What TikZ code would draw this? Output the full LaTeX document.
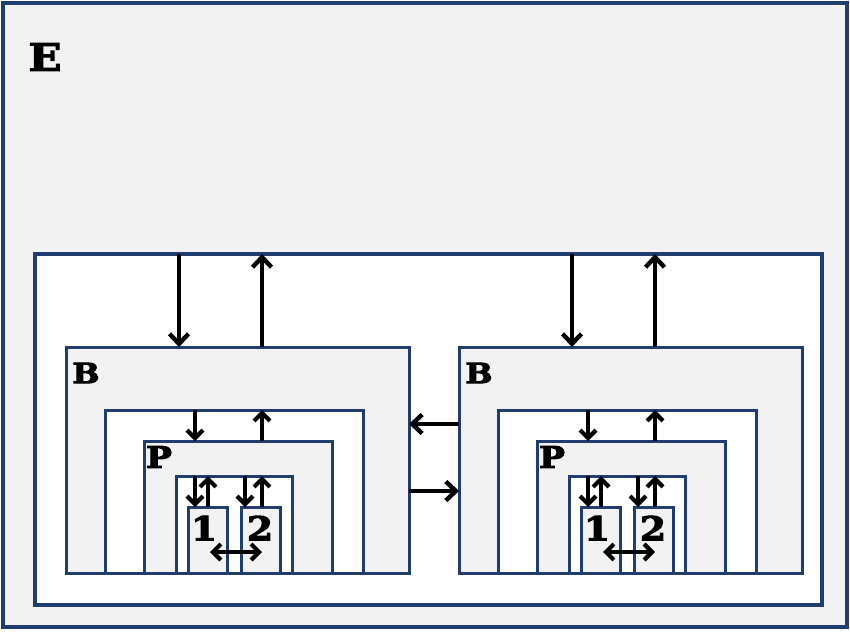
\documentclass[tikz,border=0pt]{standalone}
\usepackage{fontspec}
\newfontfamily\lbl[FakeStretch=1.15,FakeBold=3]{DejaVu Serif}
\usetikzlibrary{arrows.meta}
\definecolor{edge}{RGB}{33,60,110}
\definecolor{shade}{RGB}{242,242,242}
\tikzset{
  rbox/.style={draw=edge, line width=3pt, inner sep=0pt, outer sep=0pt, anchor=north west},
  gbox/.style={rbox, fill=shade},
  wbox/.style={rbox, fill=white},
  arr/.style={line width=4.4pt, -{Straight Barb[length=10pt,width=19pt,line width=4.4pt]}},
  sarr/.style={line width=4.2pt, -{Straight Barb[length=8pt,width=16pt,line width=4.2pt]}},
  darr/.style={line width=4.2pt, {Straight Barb[length=8pt,width=16pt,line width=4.2pt]}-{Straight Barb[length=8pt,width=16pt,line width=4.2pt]}},
  lab/.style={inner sep=0pt, text=black},
}
\newcommand\bblock[2]{%
\begin{scope}[xshift=#2]
  \node[gbox, minimum width=343pt, minimum height=226pt] (#1B) at (66,347) {};
  \node[wbox, minimum width=258pt, minimum height=163pt] (#1W) at (105,410) {};
  \node[gbox, minimum width=188pt, minimum height=132pt] (#1P) at (144,441) {};
  \node[wbox, minimum width=116pt, minimum height=97pt] (#1I) at (176,476) {};
  \node[gbox, minimum width=39pt, minimum height=66pt] (#1one) at (188,507) {};
  \node[gbox, minimum width=39pt, minimum height=66pt] (#1two) at (241,507) {};
  \node[lab, font=\lbl\bfseries\fontsize{28}{28}\selectfont] (#1Blab) at (86,373) {B};
  \node[lab, font=\lbl\bfseries\fontsize{30}{30}\selectfont] (#1Plab) at (159,457) {P};
  \node[lab, font=\lbl\bfseries\fontsize{33}{33}\selectfont] (#1onelab) at (204,528) {1};
  \node[lab, font=\lbl\bfseries\fontsize{33}{33}\selectfont] (#1twolab) at (260,528) {2};
  \coordinate (#1c1) at (179,300);
  \coordinate (#1c2) at (262,300);
  \coordinate (#1c3) at (195,300);
  \coordinate (#1c4) at (208,300);
  \coordinate (#1c5) at (245,300);
  \coordinate (#1d1) at (210,552);
  \coordinate (#1d2) at (262,552);
  \draw[arr] (M.north -| #1c1) -- (#1B.north -| #1c1);
  \draw[arr] (#1B.north -| #1c2) -- (M.north -| #1c2);
  \draw[sarr] (#1W.north -| #1c3) -- (#1P.north -| #1c3);
  \draw[sarr] (#1P.north -| #1c2) -- (#1W.north -| #1c2);
  \draw[sarr] (#1I.north -| #1c3) -- (#1one.north -| #1c3);
  \draw[sarr] (#1one.north -| #1c4) -- (#1I.north -| #1c4);
  \draw[sarr] (#1I.north -| #1c5) -- (#1two.north -| #1c5);
  \draw[sarr] (#1two.north -| #1c2) -- (#1I.north -| #1c2);
  \draw[darr] (#1d1) -- (#1d2);
\end{scope}}
\begin{document}
\begin{tikzpicture}[x=1pt,y=-1pt]
  \fill[white] (0,0) rectangle (850,631);
  \useasboundingbox (0,0) rectangle (850,631);
  \node[gbox, line width=3.4pt, minimum width=844pt, minimum height=624pt] (E) at (3,3) {};
  \node[lab, font=\lbl\bfseries\fontsize{38}{38}\selectfont] (Elab) at (45,57) {E};
  \node[wbox, line width=3.2pt, minimum width=787pt, minimum height=351pt] (M) at (35,254) {};
  \bblock{L}{0pt}
  \bblock{R}{393pt}
  \coordinate (h1) at (430,424);
  \coordinate (h2) at (430,491);
  \draw[arr] (RB.west |- h1) -- (LB.east |- h1);
  \draw[arr] (LB.east |- h2) -- (RB.west |- h2);
\end{tikzpicture}
\end{document}
